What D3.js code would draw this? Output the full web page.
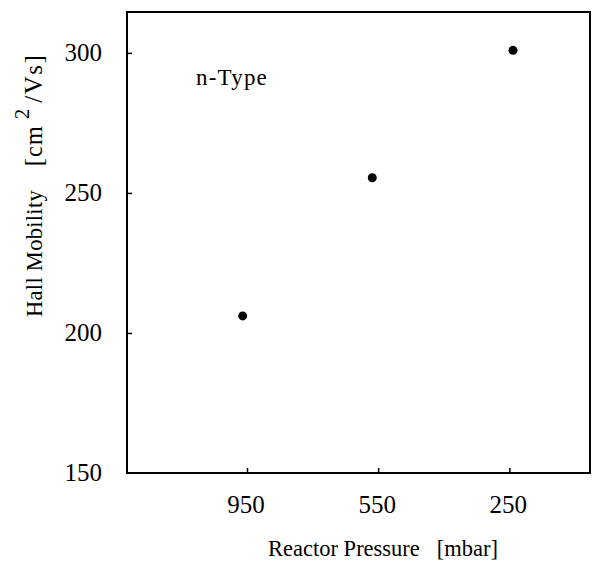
<!DOCTYPE html>
<html><head><meta charset="utf-8">
<script src="https://cdn.jsdelivr.net/npm/d3@7"></script>
<style>body{margin:0;background:#fff}svg{display:block}text{font-family:"Liberation Serif","Times New Roman",serif;fill:#000}</style>
</head><body>
<script>
const categories = ["950", "550", "250"];
const pointIndex = [-0.033, 0.955, 2.028];
const mobility = [206.1, 255.4, 300.9];
const yTicks = [150, 200, 250, 300];
const xTitle = "Reactor Pressure   [mbar]";
const yTitle = ["Hall Mobility    ", "[cm", "2", "/Vs]"];
const label = "n-Type";

const W = 592, H = 563;
const L = 127, R = 590, T = 12, B = 473;
const svg = d3.select("body").append("svg").attr("width", W).attr("height", H);
const x = d3.scaleLinear().domain([-0.915, 2.615]).range([L, R]);
const y = d3.scaleLinear().domain([150, 314.6]).range([B, T]);

// axes
const gx = svg.append("g").attr("transform", `translate(0,${B})`)
  .call(d3.axisBottom(x).tickValues([0,1,2]).tickFormat(i => categories[i]).tickSizeInner(-5).tickSizeOuter(0));
gx.select(".domain").remove();
gx.selectAll(".tick line").attr("stroke", "#000").attr("stroke-width", 1.5);
gx.selectAll(".tick text").attr("y", 39.5).attr("dy", null).attr("font-size", 25).attr("dx", -1.5);

const gy = svg.append("g").attr("transform", `translate(${L},0)`)
  .call(d3.axisLeft(y).tickValues(yTicks).tickFormat(d3.format("d")).tickSizeInner(-5).tickSizeOuter(0));
gy.select(".domain").remove();
gy.selectAll(".tick line").attr("stroke", "#000").attr("stroke-width", 1.5);
gy.selectAll(".tick text").attr("x", -25).attr("dy", "0.3em").attr("font-size", 25);
gy.selectAll(".tick").filter(d => d === 150).select("line").remove();

// frame
svg.append("rect").attr("x", L).attr("y", T).attr("width", R - L).attr("height", B - T)
  .attr("fill", "none").attr("stroke", "#000").attr("stroke-width", 2);

// points
svg.append("g").selectAll("circle").data(mobility).join("circle")
  .attr("cx", (d, i) => x(pointIndex[i])).attr("cy", d => y(d)).attr("r", 4.5).attr("fill", "#000");

// annotation
svg.append("text").attr("x", 196).attr("y", 85).attr("font-size", 23).attr("letter-spacing", 1.2).text(label);

// x title
svg.append("text").attr("x", 383).attr("y", 556).attr("text-anchor", "middle").attr("font-size", 22.5)
  .style("white-space", "pre").text(xTitle);

// y title
const yt = svg.append("text").attr("transform", "translate(42,317) rotate(-90)").attr("font-size", 22.5)
  .style("white-space", "pre");
yt.append("tspan").attr("letter-spacing", 0.3).text(yTitle[0]);
yt.append("tspan").attr("font-size", 24.5).attr("letter-spacing", 1).text(yTitle[1]);
yt.append("tspan").attr("dx", 6).attr("dy", -13).attr("font-size", 21).text(yTitle[2]);
yt.append("tspan").attr("dx", 6).attr("dy", 13).attr("letter-spacing", 1.5).attr("font-size", 25).text(yTitle[3]);
</script>
</body></html>
